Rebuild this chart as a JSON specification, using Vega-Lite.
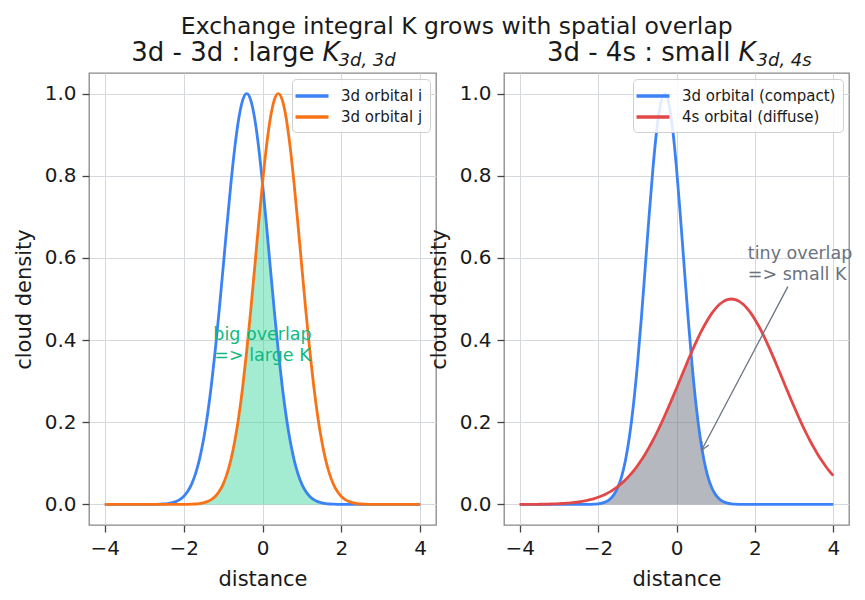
{
  "$schema": "https://vega.github.io/schema/vega-lite/v6.json",
  "padding": {"left": 12, "top": 14, "right": 10, "bottom": 3},
  "title": {"text": "Exchange integral K grows with spatial overlap", "fontSize": 23.5, "font": "DejaVu Sans", "fontWeight": "normal", "color": "#1a1a1a", "anchor": "middle", "offset": 1, "dx": 24},
  "bounds": "flush",
  "spacing": 68,
  "datasets": {
    "left": [
      {"x": -4, "i": 0, "j": 0, "ov": 0},
      {"x": -3.5, "i": 0, "j": 0, "ov": 0},
      {"x": -3, "i": 0, "j": 0, "ov": 0},
      {"x": -2.8, "i": 0.0001, "j": 0, "ov": 0},
      {"x": -2.7, "i": 0.0003, "j": 0, "ov": 0},
      {"x": -2.6, "i": 0.0006, "j": 0, "ov": 0},
      {"x": -2.5, "i": 0.0011, "j": 0, "ov": 0},
      {"x": -2.4, "i": 0.0021, "j": 0, "ov": 0},
      {"x": -2.3, "i": 0.0039, "j": 0, "ov": 0},
      {"x": -2.2, "i": 0.0068, "j": 0, "ov": 0},
      {"x": -2.1, "i": 0.0117, "j": 0, "ov": 0},
      {"x": -2.0, "i": 0.0195, "j": 0.0001, "ov": 0.0001},
      {"x": -1.9, "i": 0.0314, "j": 0.0003, "ov": 0.0003},
      {"x": -1.8, "i": 0.0490, "j": 0.0006, "ov": 0.0006},
      {"x": -1.7, "i": 0.0743, "j": 0.0011, "ov": 0.0011},
      {"x": -1.6, "i": 0.1091, "j": 0.0021, "ov": 0.0021},
      {"x": -1.5, "i": 0.1554, "j": 0.0039, "ov": 0.0039},
      {"x": -1.4, "i": 0.2147, "j": 0.0068, "ov": 0.0068},
      {"x": -1.3, "i": 0.2876, "j": 0.0117, "ov": 0.0117},
      {"x": -1.2, "i": 0.3736, "j": 0.0195, "ov": 0.0195},
      {"x": -1.1, "i": 0.4706, "j": 0.0314, "ov": 0.0314},
      {"x": -1.0, "i": 0.5748, "j": 0.0490, "ov": 0.0490},
      {"x": -0.9, "i": 0.6807, "j": 0.0743, "ov": 0.0743},
      {"x": -0.8, "i": 0.7818, "j": 0.1091, "ov": 0.1091},
      {"x": -0.7, "i": 0.8707, "j": 0.1554, "ov": 0.1554},
      {"x": -0.6, "i": 0.9403, "j": 0.2147, "ov": 0.2147},
      {"x": -0.5, "i": 0.9847, "j": 0.2876, "ov": 0.2876},
      {"x": -0.4, "i": 1.0, "j": 0.3736, "ov": 0.3736},
      {"x": -0.3, "i": 0.9847, "j": 0.4706, "ov": 0.4706},
      {"x": -0.2, "i": 0.9403, "j": 0.5748, "ov": 0.5748},
      {"x": -0.1, "i": 0.8707, "j": 0.6807, "ov": 0.6807},
      {"x": 0.0, "i": 0.7818, "j": 0.7818, "ov": 0.7818},
      {"x": 0.1, "i": 0.6807, "j": 0.8707, "ov": 0.6807},
      {"x": 0.2, "i": 0.5748, "j": 0.9403, "ov": 0.5748},
      {"x": 0.3, "i": 0.4706, "j": 0.9847, "ov": 0.4706},
      {"x": 0.4, "i": 0.3736, "j": 1.0, "ov": 0.3736},
      {"x": 0.5, "i": 0.2876, "j": 0.9847, "ov": 0.2876},
      {"x": 0.6, "i": 0.2147, "j": 0.9403, "ov": 0.2147},
      {"x": 0.7, "i": 0.1554, "j": 0.8707, "ov": 0.1554},
      {"x": 0.8, "i": 0.1091, "j": 0.7818, "ov": 0.1091},
      {"x": 0.9, "i": 0.0743, "j": 0.6807, "ov": 0.0743},
      {"x": 1.0, "i": 0.0490, "j": 0.5748, "ov": 0.0490},
      {"x": 1.1, "i": 0.0314, "j": 0.4706, "ov": 0.0314},
      {"x": 1.2, "i": 0.0195, "j": 0.3736, "ov": 0.0195},
      {"x": 1.3, "i": 0.0117, "j": 0.2876, "ov": 0.0117},
      {"x": 1.4, "i": 0.0068, "j": 0.2147, "ov": 0.0068},
      {"x": 1.5, "i": 0.0039, "j": 0.1554, "ov": 0.0039},
      {"x": 1.6, "i": 0.0021, "j": 0.1091, "ov": 0.0021},
      {"x": 1.7, "i": 0.0011, "j": 0.0743, "ov": 0.0011},
      {"x": 1.8, "i": 0.0006, "j": 0.0490, "ov": 0.0006},
      {"x": 1.9, "i": 0.0003, "j": 0.0314, "ov": 0.0003},
      {"x": 2.0, "i": 0.0001, "j": 0.0195, "ov": 0.0001},
      {"x": 2.1, "i": 0, "j": 0.0117, "ov": 0},
      {"x": 2.2, "i": 0, "j": 0.0068, "ov": 0},
      {"x": 2.3, "i": 0, "j": 0.0039, "ov": 0},
      {"x": 2.4, "i": 0, "j": 0.0021, "ov": 0},
      {"x": 2.5, "i": 0, "j": 0.0011, "ov": 0},
      {"x": 2.6, "i": 0, "j": 0.0006, "ov": 0},
      {"x": 2.7, "i": 0, "j": 0.0003, "ov": 0},
      {"x": 2.8, "i": 0, "j": 0.0001, "ov": 0},
      {"x": 3, "i": 0, "j": 0, "ov": 0},
      {"x": 3.5, "i": 0, "j": 0, "ov": 0},
      {"x": 4, "i": 0, "j": 0, "ov": 0}
    ],
    "right": [
      {"x": -4.0, "d": 0, "s": 0.0001, "ov": 0},
      {"x": -3.9, "d": 0, "s": 0.0001, "ov": 0},
      {"x": -3.8, "d": 0, "s": 0.0002, "ov": 0},
      {"x": -3.7, "d": 0, "s": 0.0003, "ov": 0},
      {"x": -3.6, "d": 0, "s": 0.0003, "ov": 0},
      {"x": -3.5, "d": 0, "s": 0.0005, "ov": 0},
      {"x": -3.4, "d": 0, "s": 0.0006, "ov": 0},
      {"x": -3.3, "d": 0, "s": 0.0008, "ov": 0},
      {"x": -3.2, "d": 0, "s": 0.0011, "ov": 0},
      {"x": -3.1, "d": 0, "s": 0.0014, "ov": 0},
      {"x": -3.0, "d": 0, "s": 0.0018, "ov": 0},
      {"x": -2.9, "d": 0, "s": 0.0023, "ov": 0},
      {"x": -2.8, "d": 0, "s": 0.0030, "ov": 0},
      {"x": -2.7, "d": 0, "s": 0.0038, "ov": 0},
      {"x": -2.6, "d": 0, "s": 0.0048, "ov": 0},
      {"x": -2.5, "d": 0, "s": 0.0060, "ov": 0},
      {"x": -2.4, "d": 0, "s": 0.0075, "ov": 0},
      {"x": -2.3, "d": 0.0001, "s": 0.0093, "ov": 0.0001},
      {"x": -2.2, "d": 0.0003, "s": 0.0116, "ov": 0.0003},
      {"x": -2.1, "d": 0.0007, "s": 0.0142, "ov": 0.0007},
      {"x": -2.0, "d": 0.0016, "s": 0.0174, "ov": 0.0016},
      {"x": -1.9, "d": 0.0034, "s": 0.0211, "ov": 0.0034},
      {"x": -1.8, "d": 0.0067, "s": 0.0255, "ov": 0.0067},
      {"x": -1.7, "d": 0.0128, "s": 0.0306, "ov": 0.0128},
      {"x": -1.6, "d": 0.0234, "s": 0.0365, "ov": 0.0234},
      {"x": -1.5, "d": 0.0408, "s": 0.0434, "ov": 0.0408},
      {"x": -1.4, "d": 0.0679, "s": 0.0512, "ov": 0.0512},
      {"x": -1.3, "d": 0.1084, "s": 0.0601, "ov": 0.0601},
      {"x": -1.2, "d": 0.1653, "s": 0.0701, "ov": 0.0701},
      {"x": -1.1, "d": 0.2412, "s": 0.0812, "ov": 0.0812},
      {"x": -1.0, "d": 0.3366, "s": 0.0937, "ov": 0.0937},
      {"x": -0.9, "d": 0.4493, "s": 0.1074, "ov": 0.1074},
      {"x": -0.8, "d": 0.5738, "s": 0.1224, "ov": 0.1224},
      {"x": -0.7, "d": 0.7008, "s": 0.1388, "ov": 0.1388},
      {"x": -0.6, "d": 0.8187, "s": 0.1563, "ov": 0.1563},
      {"x": -0.5, "d": 0.9149, "s": 0.1751, "ov": 0.1751},
      {"x": -0.4, "d": 0.9780, "s": 0.1950, "ov": 0.1950},
      {"x": -0.3, "d": 1.0, "s": 0.2158, "ov": 0.2158},
      {"x": -0.2, "d": 0.9780, "s": 0.2376, "ov": 0.2376},
      {"x": -0.1, "d": 0.9149, "s": 0.2600, "ov": 0.2600},
      {"x": 0.0, "d": 0.8187, "s": 0.2829, "ov": 0.2829},
      {"x": 0.1, "d": 0.7008, "s": 0.3059, "ov": 0.3059},
      {"x": 0.2, "d": 0.5738, "s": 0.3290, "ov": 0.3290},
      {"x": 0.3, "d": 0.4493, "s": 0.3518, "ov": 0.3518},
      {"x": 0.4, "d": 0.3366, "s": 0.3739, "ov": 0.3366},
      {"x": 0.5, "d": 0.2412, "s": 0.3951, "ov": 0.2412},
      {"x": 0.6, "d": 0.1653, "s": 0.4151, "ov": 0.1653},
      {"x": 0.7, "d": 0.1084, "s": 0.4336, "ov": 0.1084},
      {"x": 0.8, "d": 0.0679, "s": 0.4503, "ov": 0.0679},
      {"x": 0.9, "d": 0.0408, "s": 0.4650, "ov": 0.0408},
      {"x": 1.0, "d": 0.0234, "s": 0.4773, "ov": 0.0234},
      {"x": 1.1, "d": 0.0128, "s": 0.4871, "ov": 0.0128},
      {"x": 1.2, "d": 0.0067, "s": 0.4942, "ov": 0.0067},
      {"x": 1.3, "d": 0.0034, "s": 0.4985, "ov": 0.0034},
      {"x": 1.4, "d": 0.0016, "s": 0.5, "ov": 0.0016},
      {"x": 1.5, "d": 0.0007, "s": 0.4985, "ov": 0.0007},
      {"x": 1.6, "d": 0.0003, "s": 0.4942, "ov": 0.0003},
      {"x": 1.7, "d": 0.0001, "s": 0.4871, "ov": 0.0001},
      {"x": 1.8, "d": 0, "s": 0.4773, "ov": 0},
      {"x": 1.9, "d": 0, "s": 0.4650, "ov": 0},
      {"x": 2.0, "d": 0, "s": 0.4503, "ov": 0},
      {"x": 2.1, "d": 0, "s": 0.4336, "ov": 0},
      {"x": 2.2, "d": 0, "s": 0.4151, "ov": 0},
      {"x": 2.3, "d": 0, "s": 0.3951, "ov": 0},
      {"x": 2.4, "d": 0, "s": 0.3739, "ov": 0},
      {"x": 2.5, "d": 0, "s": 0.3518, "ov": 0},
      {"x": 2.6, "d": 0, "s": 0.3290, "ov": 0},
      {"x": 2.7, "d": 0, "s": 0.3059, "ov": 0},
      {"x": 2.8, "d": 0, "s": 0.2829, "ov": 0},
      {"x": 2.9, "d": 0, "s": 0.2600, "ov": 0},
      {"x": 3.0, "d": 0, "s": 0.2376, "ov": 0},
      {"x": 3.1, "d": 0, "s": 0.2158, "ov": 0},
      {"x": 3.2, "d": 0, "s": 0.1950, "ov": 0},
      {"x": 3.3, "d": 0, "s": 0.1751, "ov": 0},
      {"x": 3.4, "d": 0, "s": 0.1563, "ov": 0},
      {"x": 3.5, "d": 0, "s": 0.1388, "ov": 0},
      {"x": 3.6, "d": 0, "s": 0.1224, "ov": 0},
      {"x": 3.7, "d": 0, "s": 0.1074, "ov": 0},
      {"x": 3.8, "d": 0, "s": 0.0937, "ov": 0},
      {"x": 3.9, "d": 0, "s": 0.0812, "ov": 0},
      {"x": 4.0, "d": 0, "s": 0.0701, "ov": 0}
    ],
    "one": [{}]
  },
  "hconcat": [
    {
      "width": 347,
      "height": 452,
      "layer": [
        {
          "data": {"name": "left"},
          "mark": {"type": "area", "color": "#34d399", "opacity": 0.45, "interpolate": "monotone"},
          "encoding": {
            "x": {"field": "x", "type": "quantitative", "scale": {"domain": [-4.4, 4.4], "nice": false, "zero": false}, "axis": {"values": [-4, -2, 0, 2, 4], "title": "distance"}},
            "y": {"field": "ov", "type": "quantitative", "scale": {"domain": [-0.05, 1.05], "nice": false, "zero": false}, "axis": {"values": [0, 0.2, 0.4, 0.6, 0.8, 1.0], "format": ".1f", "title": "cloud density"}},
            "y2": {"datum": 0}
          }
        },
        {
          "data": {"name": "left"},
          "mark": {"type": "line", "strokeWidth": 2.8, "interpolate": "monotone"},
          "encoding": {
            "x": {"field": "x", "type": "quantitative"},
            "y": {"field": "i", "type": "quantitative"},
            "color": {"datum": "3d orbital i", "type": "nominal", "scale": {"domain": ["3d orbital i", "3d orbital j"], "range": ["#3b82f6", "#f97316"]}, "legend": {"title": null, "orient": "top-right"}}
          }
        },
        {
          "data": {"name": "left"},
          "mark": {"type": "line", "strokeWidth": 2.8, "interpolate": "monotone"},
          "encoding": {
            "x": {"field": "x", "type": "quantitative"},
            "y": {"field": "j", "type": "quantitative"},
            "color": {"datum": "3d orbital j", "type": "nominal"}
          }
        },
        {
          "data": {"name": "one"},
          "mark": {"type": "text", "text": ["big overlap", "=> large K"], "align": "center", "baseline": "middle", "fontSize": 17.5, "lineHeight": 21, "color": "#10b981"},
          "encoding": {"x": {"datum": 0}, "y": {"datum": 0.412}}
        },
        {
          "data": {"name": "one"},
          "mark": {"type": "text", "text": "3d - 3d : large", "align": "right", "baseline": "alphabetic", "dx": 52, "dy": -12, "fontSize": 26, "color": "#1a1a1a"},
          "encoding": {"x": {"datum": 0}, "y": {"datum": 1.05}}
        },
        {
          "data": {"name": "one"},
          "mark": {"type": "text", "text": "K", "align": "left", "baseline": "alphabetic", "dx": 60, "dy": -12, "fontSize": 26, "fontStyle": "italic", "color": "#1a1a1a"},
          "encoding": {"x": {"datum": 0}, "y": {"datum": 1.05}}
        },
        {
          "data": {"name": "one"},
          "mark": {"type": "text", "text": "3d, 3d", "align": "left", "baseline": "alphabetic", "dx": 76, "dy": -7, "fontSize": 18, "fontStyle": "italic", "color": "#1a1a1a"},
          "encoding": {"x": {"datum": 0}, "y": {"datum": 1.05}}
        }
      ]
    },
    {
      "width": 345,
      "height": 452,
      "layer": [
        {
          "data": {"name": "right"},
          "mark": {"type": "area", "color": "#6b7280", "opacity": 0.5, "interpolate": "monotone"},
          "encoding": {
            "x": {"field": "x", "type": "quantitative", "scale": {"domain": [-4.4, 4.4], "nice": false, "zero": false}, "axis": {"values": [-4, -2, 0, 2, 4], "title": "distance"}},
            "y": {"field": "ov", "type": "quantitative", "scale": {"domain": [-0.05, 1.05], "nice": false, "zero": false}, "axis": {"values": [0, 0.2, 0.4, 0.6, 0.8, 1.0], "format": ".1f", "title": "cloud density"}},
            "y2": {"datum": 0}
          }
        },
        {
          "data": {"name": "right"},
          "mark": {"type": "line", "strokeWidth": 2.8, "interpolate": "monotone"},
          "encoding": {
            "x": {"field": "x", "type": "quantitative"},
            "y": {"field": "d", "type": "quantitative"},
            "color": {"datum": "3d orbital (compact)", "type": "nominal", "scale": {"domain": ["3d orbital (compact)", "4s orbital (diffuse)"], "range": ["#3b82f6", "#e24848"]}, "legend": {"title": null, "orient": "top-right"}}
          }
        },
        {
          "data": {"name": "right"},
          "mark": {"type": "line", "strokeWidth": 2.8, "interpolate": "monotone"},
          "encoding": {
            "x": {"field": "x", "type": "quantitative"},
            "y": {"field": "s", "type": "quantitative"},
            "color": {"datum": "4s orbital (diffuse)", "type": "nominal"}
          }
        },
        {
          "data": {"name": "one"},
          "mark": {"type": "rule", "color": "#6b7280", "strokeWidth": 1.3},
          "encoding": {"x": {"datum": 2.84}, "y": {"datum": 0.53}, "x2": {"datum": 0.64}, "y2": {"datum": 0.132}}
        },
        {
          "data": {"name": "one"},
          "mark": {"type": "point", "shape": "M-0.5,-1L0,0L0.5,-1", "filled": false, "stroke": "#6b7280", "strokeWidth": 1.3, "size": 256, "angle": 28, "opacity": 1},
          "encoding": {"x": {"datum": 0.64}, "y": {"datum": 0.132}}
        },
        {
          "data": {"name": "one"},
          "mark": {"type": "text", "text": ["tiny overlap", "=> small K"], "align": "left", "baseline": "middle", "fontSize": 17.5, "lineHeight": 21, "color": "#6b7280"},
          "encoding": {"x": {"datum": 1.82}, "y": {"datum": 0.61}}
        },
        {
          "data": {"name": "one"},
          "mark": {"type": "text", "text": "3d - 4s : small", "align": "right", "baseline": "alphabetic", "dx": 54, "dy": -12, "fontSize": 26, "color": "#1a1a1a"},
          "encoding": {"x": {"datum": 0}, "y": {"datum": 1.05}}
        },
        {
          "data": {"name": "one"},
          "mark": {"type": "text", "text": "K", "align": "left", "baseline": "alphabetic", "dx": 62, "dy": -12, "fontSize": 26, "fontStyle": "italic", "color": "#1a1a1a"},
          "encoding": {"x": {"datum": 0}, "y": {"datum": 1.05}}
        },
        {
          "data": {"name": "one"},
          "mark": {"type": "text", "text": "3d, 4s", "align": "left", "baseline": "alphabetic", "dx": 80, "dy": -7, "fontSize": 18, "fontStyle": "italic", "color": "#1a1a1a"},
          "encoding": {"x": {"datum": 0}, "y": {"datum": 1.05}}
        }
      ]
    }
  ],
  "resolve": {"scale": {"color": "independent"}, "legend": {"color": "independent"}},
  "config": {
    "font": "DejaVu Sans",
    "view": {"stroke": "#888888", "strokeWidth": 1.3},
    "axis": {
      "domain": false, "grid": true, "gridColor": "#d5d8dc", "gridWidth": 1,
      "tickColor": "#444444", "tickSize": 7, "tickWidth": 1.3,
      "labelFontSize": 20, "labelColor": "#1a1a1a", "labelPadding": 6,
      "titleFontSize": 21, "titleFontWeight": "normal", "titleColor": "#1a1a1a", "titlePadding": 10
    },
    "legend": {
      "symbolType": "M-2,0L2,0", "symbolSize": 272, "symbolStrokeWidth": 3.5, "symbolOffset": 3,
      "labelFontSize": 15, "labelColor": "#1a1a1a", "labelOffset": 19,
      "fillColor": "rgba(255,255,255,0.85)", "strokeColor": "#d0d0d0", "cornerRadius": 4,
      "padding": 7, "rowPadding": 3, "offset": 6
    }
  }
}
